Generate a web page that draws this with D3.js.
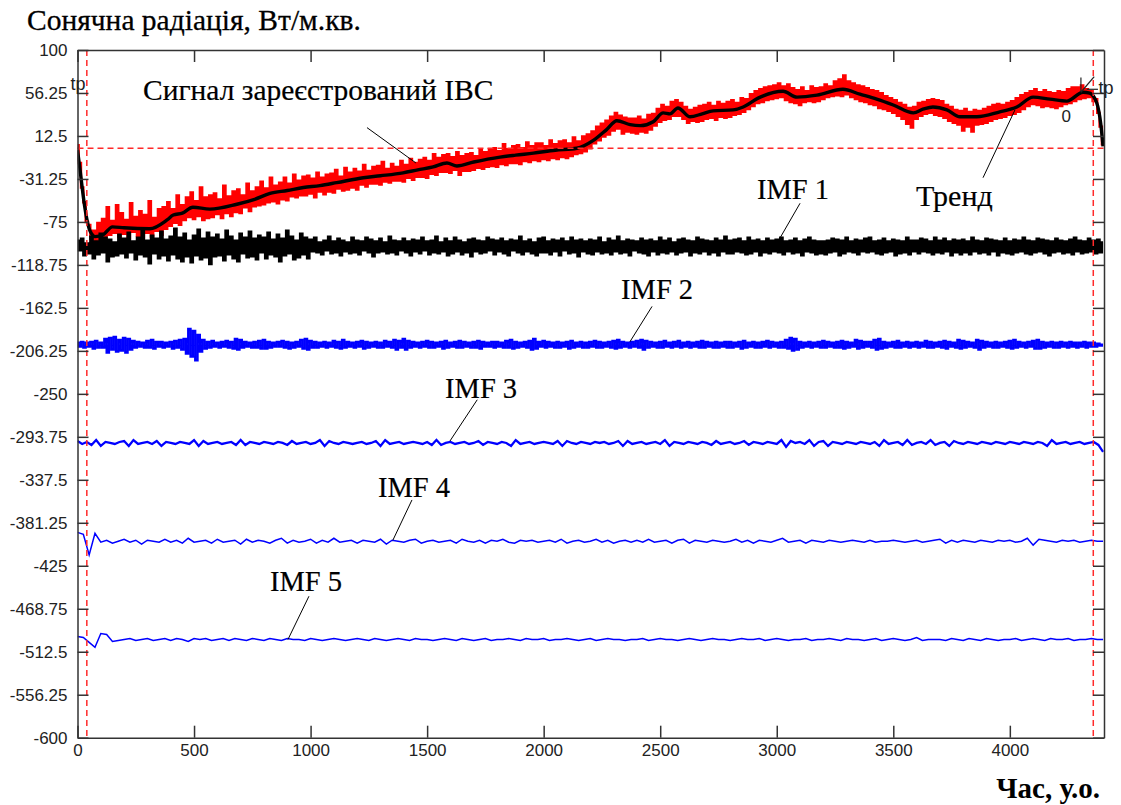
<!DOCTYPE html>
<html>
<head>
<meta charset="utf-8">
<script src="https://cdn.jsdelivr.net/npm/d3@7"></script>
<style>
  body { margin: 0; background: #fff; }
  svg { display: block; }
</style>
</head>
<body>
<svg id="chart" width="1121" height="805"></svg>
<script>
// ---- Axis ticks ----
const xTicks = [0, 500, 1000, 1500, 2000, 2500, 3000, 3500, 4000];
const yTicks = [100, 56.25, 12.5, -31.25, -75, -118.75, -162.5, -206.25, -250,
                -293.75, -337.5, -381.25, -425, -468.75, -512.5, -556.25, -600];
const yTickLabels = ["100", "56.25", "12.5", "-31.25", "-75", "-118.75", "-162.5", "-206.25", "-250",
                     "-293.75", "-337.5", "-381.25", "-425", "-468.75", "-512.5", "-556.25", "-600"];

// ---- Trend (smooth residual), key points ----
const trendX = [0,10,20,30,40,50,60,75,110,150,200,310,384,411,450,495,568,684,
  760,826,900,969,1040,1112,1226,1300,1397,1460,1526,1585,1628,1700,1813,1880,1956,2050,2142,2213,
  2270,2314,2371,2414,2470,2513,2542,2576,2628,2680,2727,2813,2856,2920,3027,3087,3173,3284,3357,3429,
  3500,3586,3630,3670,3730,3786,3858,3957,4030,4100,4172,4245,4314,4343,4373,4390,4400];
const trendY = [-2,-20,-40,-58,-72,-82,-87,-90,-88,-80,-81,-82,-73,-68,-66,-60,-62,-57,
  -52,-46,-43,-40,-38,-35,-30,-28,-25,-22,-19,-15,-18,-14,-9,-7,-5,-2,0,8,
  19,28,24,23,27,36,35,41,32,35,38,39,42,51,58,52,54,60,55,50,
  44,36,40,42,39,32,32,37,42,52,50,48,57,56,46,25,2];

// ---- Recorded signal, one sample every 10 time units ----
const signalStep = 10;
const signal = [3,-15,-40,-55,-75,-78,-92,-84,
  -95,-76,-93,-72,-91,-60,-88,-74,-86,-58,
  -90,-66,-87,-73,-92,-56,-85,-70,-89,-64,
  -91,-68,-86,-54,-90,-71,-84,-62,-88,-60,
  -82,-55,-79,-62,-76,-48,-78,-58,-73,-50,
  -70,-45,-72,-54,-69,-40,-73,-50,-71,-48,
  -70,-46,-67,-52,-71,-38,-66,-49,-69,-44,
  -65,-42,-66,-48,-60,-36,-64,-44,-59,-40,
  -58,-34,-57,-41,-55,-30,-54,-38,-56,-35,
  -52,-30,-53,-36,-49,-27,-50,-33,-48,-29,
  -48,-28,-46,-31,-50,-25,-44,-30,-47,-27,
  -44,-26,-45,-22,-41,-29,-43,-20,-42,-25,
  -40,-21,-42,-24,-37,-17,-39,-23,-36,-19,
  -36,-18,-37,-14,-34,-21,-35,-16,-33,-19,
  -33,-13,-34,-17,-30,-11,-32,-15,-29,-12,
  -29,-10,-30,-13,-26,-6,-27,-10,-24,-7,
  -24,-6,-25,-9,-22,-4,-27,-8,-23,-6,
  -23,-5,-22,-8,-20,-2,-21,-4,-19,-1,
  -18,0,-19,-3,-16,4,-17,-1,-15,2,
  -15,3,-16,0,-13,6,-14,2,-12,5,
  -13,5,-11,2,-12,8,-10,4,-11,7,
  -9,8,-10,5,-8,11,-6,7,-5,12,
  -3,14,0,17,5,22,8,25,12,28,
  14,32,18,36,20,33,15,31,17,30,
  16,30,15,32,17,29,16,34,19,35,
  23,40,27,44,29,42,30,47,33,49,
  33,46,30,42,26,39,28,41,27,43,
  28,44,30,46,31,43,29,47,32,45,
  31,47,32,49,34,46,35,51,37,50,
  40,55,43,58,46,60,47,62,49,63,
  50,64,51,66,52,63,49,65,47,61,
  46,59,44,62,47,58,48,63,47,61,
  48,62,50,65,52,63,53,68,54,70,
  53,74,55,68,52,66,50,64,48,63,
  47,61,45,59,44,58,41,56,40,53,
  38,51,36,49,33,46,30,44,25,41,
  21,42,30,46,33,47,35,49,36,50,
  34,49,33,48,31,44,28,42,26,39,
  24,38,18,40,22,37,17,39,24,38,
  25,40,26,42,28,44,30,45,31,44,
  32,46,34,48,35,51,37,54,40,56,
  43,58,45,60,44,57,42,59,43,57,
  42,56,41,58,43,57,45,60,46,62,
  48,62,50,64,51,60,52,58,48,50,
  36,22,4];

// ---- Intrinsic mode functions (values around zero) ----
const imf1Step = 10;
const imf1 = [
  6,-4,8,-9,3,-7,10,-12,5,-8,13,-6,9,-15,7,-10,4,-9,12,-7,
  8,-11,14,-6,5,-13,9,-8,16,-10,6,-17,11,-7,8,-12,15,-9,7,-14,
  10,-8,18,-12,9,-15,13,-10,6,-16,11,-9,17,-13,8,-11,14,-18,9,-10,
  12,-9,7,-14,16,-8,10,-12,6,-15,13,-7,9,-11,15,-10,8,-13,11,-6,
  9,-12,14,-8,7,-10,12,-15,8,-9,16,-7,10,-13,6,-11,13,-8,9,-12,
  7,-5,9,-6,4,-8,6,-4,10,-7,5,-6,8,-9,6,-5,4,-7,9,-6,
  6,-8,5,-4,9,-6,7,-10,5,-6,8,-5,4,-7,10,-6,6,-8,5,-4,
  8,-6,5,-9,7,-5,6,-7,9,-4,5,-8,6,-6,10,-7,4,-5,8,-9,
  5,-7,9,-5,6,-8,4,-6,7,-10,8,-5,6,-7,5,-6,9,-4,7,-8,
  6,-5,8,-7,5,-9,7,-4,6,-6,10,-8,5,-5,7,-7,4,-9,8,-6,
  9,-6,5,-8,7,-5,6,-9,8,-4,5,-7,9,-6,6,-10,7,-5,5,-7,
  7,-8,6,-5,9,-7,4,-6,8,-8,6,-5,10,-7,5,-6,7,-9,6,-4,
  5,-6,8,-7,6,-9,7,-5,5,-8,9,-6,6,-7,8,-5,4,-8,7,-6,
  8,-5,6,-9,5,-6,9,-7,7,-5,6,-8,5,-6,8,-9,6,-5,10,-7,
  6,-7,7,-5,8,-6,5,-8,9,-7,6,-5,7,-9,5,-6,8,-7,6,-5,
  7,-6,9,-8,5,-5,6,-7,8,-6,5,-9,7,-5,9,-6,6,-8,5,-7,
  5,-8,6,-6,8,-5,7,-9,6,-7,9,-5,5,-6,7,-8,6,-5,8,-6,
  9,-5,5,-7,6,-8,8,-6,5,-5,7,-9,6,-7,5,-6,9,-8,6,-5,
  6,-7,8,-5,7,-6,5,-8,9,-6,6,-7,8,-5,5,-9,7,-6,6,-8,
  7,-6,5,-8,9,-5,6,-7,5,-6,8,-8,7,-5,6,-9,5,-6,8,-7,
  5,-8,7,-6,6,-5,9,-7,6,-8,5,-6,8,-5,7,-7,6,-9,5,-6,
  8,-5,6,-7,5,-6,7,-8,9,-5,6,-7,5,-6,8,-5,6,-7,7,-6,
  4];

const imf2Step = 10;
const imf2 = [
  2,-2,3,-3,2,-2,3,-4,4,-3,2,-3,6,-8,7,-5,8,-7,5,-6,
  7,-8,6,-5,4,-3,3,-2,2,-3,4,-3,5,-4,3,-2,3,-3,2,-2,
  3,-4,4,-3,5,-5,6,-9,16,-12,14,-16,10,-7,5,-4,3,-3,4,-2,
  2,-3,3,-2,4,-3,3,-4,6,-5,5,-3,3,-2,2,-3,3,-3,4,-4,
  5,-4,3,-3,2,-2,3,-2,4,-3,3,-4,2,-3,3,-2,5,-4,6,-5,
  4,-3,3,-3,2,-2,3,-3,2,-2,4,-3,3,-4,5,-3,3,-2,2,-3,
  3,-2,4,-4,3,-3,2,-2,3,-3,2,-3,4,-2,3,-3,5,-5,4,-3,
  6,-5,4,-3,3,-2,2,-3,3,-2,4,-3,3,-3,2,-2,3,-4,4,-3,
  2,-2,3,-3,4,-3,3,-2,2,-3,3,-3,4,-4,3,-2,2,-2,3,-3,
  3,-2,2,-3,4,-3,5,-4,3,-3,2,-2,3,-3,4,-5,6,-4,3,-2,
  4,-3,3,-2,2,-3,3,-3,2,-2,3,-4,4,-3,2,-2,3,-3,2,-3,
  3,-2,4,-3,3,-3,2,-2,3,-3,4,-4,5,-3,3,-2,2,-3,3,-2,
  4,-3,5,-5,4,-3,3,-2,2,-3,3,-3,4,-2,2,-3,3,-2,4,-3,
  2,-2,3,-3,2,-2,3,-3,4,-3,3,-2,2,-3,3,-3,2,-2,3,-3,
  3,-3,2,-2,3,-4,4,-3,2,-2,3,-3,2,-3,3,-2,4,-3,3,-2,
  2,-3,3,-3,5,-4,7,-6,6,-5,3,-3,2,-2,3,-3,2,-2,3,-3,
  4,-3,3,-2,2,-3,3,-3,4,-4,3,-3,2,-2,5,-4,4,-3,3,-2,
  3,-3,5,-5,6,-4,3,-3,2,-2,3,-3,4,-3,2,-2,3,-3,2,-2,
  3,-3,2,-2,4,-3,3,-3,2,-2,3,-3,4,-4,3,-2,2,-3,5,-4,
  4,-3,3,-2,2,-3,5,-5,4,-3,3,-2,2,-3,3,-3,2,-2,3,-3,
  4,-4,5,-3,3,-2,2,-3,3,-2,4,-4,5,-4,3,-3,2,-2,3,-3,
  2,-3,3,-2,2,-3,3,-2,2,-3,2,-2,3,-3,2,-2,2,-2,1,-1,
  0];

const imf3Step = 20;
const imf3 = [
  2,-1,1,-2,3,-3,1,0,-1,1,2,-3,3,-1,0,1,-1,2,-3,1,
  0,-1,1,0,-1,3,-3,2,-1,0,1,-1,0,1,-2,3,-2,1,0,-1,
  1,0,-1,1,0,-2,2,-1,0,1,-1,0,3,-3,2,0,-1,1,0,-1,
  0,1,-1,0,2,-3,3,-1,0,1,-1,0,1,0,-1,1,-2,3,-2,0,
  1,-1,0,1,-1,0,2,-2,1,0,-1,1,0,-3,3,-1,0,1,-1,0,
  1,0,-1,2,-3,2,0,-1,1,0,-1,1,0,1,-1,0,2,-3,2,-1,
  0,1,-1,0,1,-1,3,-3,1,0,-1,1,0,-1,1,0,-2,2,-1,0,
  1,-1,0,2,-2,1,0,-1,1,0,-1,3,-4,2,0,1,-1,3,-3,1,
  2,-3,1,0,-1,1,0,-1,1,0,-1,1,-3,3,-1,0,1,-2,3,-2,
  0,1,-1,3,-2,0,1,-3,2,0,-1,1,0,-1,1,0,-1,1,0,-1,
  1,0,-1,1,0,-1,1,0,-3,3,-1,0,1,-1,0,1,-1,0,1,-2,
  -9];

const imf4Step = 25;
const imf4 = [
  9,7,-14,8,-1,1,-2,0,2,-1,1,-3,1,0,-1,2,
  -1,1,-2,3,-1,0,1,-2,2,-1,0,1,-3,2,-1,1,
  0,-2,1,3,-2,1,-1,0,2,-2,1,-1,3,-1,0,1,
  -2,1,0,-1,2,-3,1,0,-1,1,2,-2,0,1,-1,0,
  1,-2,2,0,-1,1,-2,1,0,2,-1,-2,1,0,1,-1,
  0,1,-1,2,-2,0,1,-1,0,2,-1,1,-2,0,1,-1,
  1,-1,2,-1,0,1,-2,1,2,-2,1,0,-1,1,0,-1,
  0,2,-1,1,-2,1,0,-1,1,3,-1,0,1,-2,1,0,
  -1,1,0,-1,0,1,0,-1,1,-1,0,0,1,0,-1,0,
  1,-1,0,1,2,-2,1,-1,1,0,-1,1,0,-1,1,0,
  1,-1,0,3,-4,2,1,0,-1,1,0,1,-1,0,1,0,
  0];

const imf5Step = 25;
const imf5 = [
  3,2,-3,-8,6,5,-2,-1,0,1,-1,0,1,-1,0,1,
  -1,1,0,-2,1,0,1,-1,0,1,-1,1,0,-1,1,0,
  -1,1,0,-1,1,0,0,-1,1,0,-1,0,1,0,-1,0,
  1,0,-1,1,0,-1,0,1,0,-1,1,0,0,-1,0,1,
  0,-1,1,0,-1,0,1,-1,0,0,1,0,-1,1,0,0,
  1,-1,0,0,1,0,-1,0,1,-1,0,1,0,0,-1,0,
  0,1,-1,0,1,0,0,-1,0,1,0,-1,0,1,0,0,
  -1,0,1,0,0,1,-1,0,1,0,-1,0,0,1,-1,0,
  0,1,0,-1,1,0,0,-1,0,1,-1,0,1,0,-1,0,
  2,-1,0,0,0,-1,1,0,-1,1,0,-1,1,0,-1,0,
  0,1,-1,0,1,0,-1,1,0,0,1,-1,0,0,1,0,
  0];

// vertical shift of each IMF trace on the common axis
const imfOffsets = [-100, -200, -300, -400, -500];
// boundary markers (time units) and the zero level
const markerTimes = [40, 4358];
const zeroLevel = 0;

// ---- Layout ----
const M = { l: 77.5, r: 1104, t: 50, b: 737.7 };
const svg = d3.select("#chart");
const x = d3.scaleLinear().domain([0, 4404]).range([M.l, M.r]);
const y = d3.scaleLinear().domain([-600, 100]).range([M.b, M.t]);

svg.append("defs").append("clipPath").attr("id", "plotArea")
  .append("rect").attr("x", M.l).attr("y", M.t)
  .attr("width", M.r - M.l).attr("height", M.b - M.t);

const plot = svg.append("g").attr("clip-path", "url(#plotArea)");

const toPoints = (vals, step, offset) => vals.map((v, i) => [i * step, v + offset]);
const rawLine = d3.line().x(d => x(d[0])).y(d => y(d[1]));
// dense sampled traces: vertical strokes between neighbouring samples
const denseLine = d3.line().x(d => x(d[0])).y(d => y(d[1])).curve(d3.curveStep);
const smoothLine = d3.line().x(d => x(d[0])).y(d => y(d[1])).curve(d3.curveMonotoneX);

// recorded signal
plot.append("path")
  .datum(toPoints(signal, signalStep, 0))
  .attr("d", denseLine)
  .attr("fill", "none").attr("stroke", "#ff0000").attr("stroke-width", 2.4)
  .attr("stroke-linejoin", "miter").attr("stroke-linecap", "butt");

// trend
plot.append("path")
  .datum(trendX.map((t, i) => [t, trendY[i]]))
  .attr("d", smoothLine)
  .attr("fill", "none").attr("stroke", "#000").attr("stroke-width", 3.4)
  .attr("stroke-linejoin", "round");

// IMF traces
const imfs = [
  { vals: imf1, step: imf1Step, color: "#000000", w: 2.4, gen: denseLine },
  { vals: imf2, step: imf2Step, color: "#0000ff", w: 2.3, gen: denseLine },
  { vals: imf3, step: imf3Step, color: "#0000ff", w: 2.3, gen: rawLine },
  { vals: imf4, step: imf4Step, color: "#0000ff", w: 1.5, gen: rawLine },
  { vals: imf5, step: imf5Step, color: "#0000ff", w: 1.5, gen: rawLine }
];
imfs.forEach((s, k) => {
  plot.append("path")
    .datum(toPoints(s.vals, s.step, imfOffsets[k]))
    .attr("d", s.gen)
    .attr("fill", "none").attr("stroke", s.color).attr("stroke-width", s.w);
});

// dashed reference lines
const dashed = svg.append("g").attr("stroke", "#ff2a2a").attr("stroke-width", 1.5)
  .attr("stroke-dasharray", "6,4").attr("fill", "none");
markerTimes.forEach(t => {
  dashed.append("line").attr("x1", x(t)).attr("x2", x(t)).attr("y1", M.t).attr("y2", M.b);
});
dashed.append("line").attr("x1", M.l).attr("x2", M.r).attr("y1", y(zeroLevel)).attr("y2", y(zeroLevel));

// ---- Axes (box with inward ticks) ----
const tickFont = "'Liberation Sans', Arial, sans-serif";
const gB = svg.append("g").attr("transform", `translate(0,${M.b})`)
  .call(d3.axisBottom(x).tickValues(xTicks).tickSizeInner(-12).tickSizeOuter(0).tickPadding(6).tickFormat(d3.format("d")));
const gT = svg.append("g").attr("transform", `translate(0,${M.t})`)
  .call(d3.axisTop(x).tickValues(xTicks).tickSizeInner(-12).tickSizeOuter(0).tickFormat(""));
const gL = svg.append("g").attr("transform", `translate(${M.l},0)`)
  .call(d3.axisLeft(y).tickValues(yTicks).tickSizeInner(-11).tickSizeOuter(0).tickPadding(10)
    .tickFormat((d, i) => yTickLabels[i]));
const gR = svg.append("g").attr("transform", `translate(${M.r},0)`)
  .call(d3.axisRight(y).tickValues(yTicks).tickSizeInner(-11).tickSizeOuter(0).tickFormat(""));
[gB, gT, gL, gR].forEach(g => {
  g.select(".domain").attr("stroke", "#333").attr("stroke-width", 1.5);
  g.selectAll(".tick line").attr("stroke", "#333").attr("stroke-width", 1.5);
  g.selectAll(".tick text").attr("font-family", tickFont).attr("font-size", 17).attr("fill", "#222");
});

// ---- Titles ----
const serif = "'Liberation Serif', 'Times New Roman', serif";
svg.append("text").attr("x", 27).attr("y", 30)
  .attr("font-family", serif).attr("font-size", 29.5).attr("fill", "#000")
  .attr("stroke", "#000").attr("stroke-width", 0.3)
  .text("Сонячна радіація, Вт/м.кв.");
svg.append("text").attr("x", 1100).attr("y", 798).attr("text-anchor", "end")
  .attr("font-family", serif).attr("font-size", 29).attr("font-weight", "bold").attr("fill", "#000")
  .text("Час, у.о.");

// ---- Annotations (anchored in data coordinates) ----
const labels = [
  { text: "Сигнал зареєстрований ІВС", at: [281, 49], from: [1242, 21], to: [1452, -15], size: 29.5 },
  { text: "Тренд", at: [3597, -59], from: [3885, -30], to: [4022, 39], size: 30 },
  { text: "IMF 1", at: [2915, -52], from: [3100, -56], to: [3010, -93], size: 28.5 },
  { text: "IMF 2", at: [2332, -153], from: [2465, -161], to: [2370, -197], size: 28.5 },
  { text: "IMF 3", at: [1577, -254], from: [1715, -256], to: [1598, -298], size: 28.5 },
  { text: "IMF 4", at: [1289, -355], from: [1435, -358], to: [1353, -399], size: 28.5 },
  { text: "IMF 5", at: [826, -451], from: [993, -456], to: [903, -500], size: 28.5 }
];
const ann = svg.append("g");
labels.forEach(a => {
  ann.append("line")
    .attr("x1", x(a.from[0])).attr("y1", y(a.from[1]))
    .attr("x2", x(a.to[0])).attr("y2", y(a.to[1]))
    .attr("stroke", "#000").attr("stroke-width", 1);
  ann.append("text").attr("x", x(a.at[0])).attr("y", y(a.at[1]))
    .attr("font-family", serif).attr("font-size", a.size).attr("fill", "#000")
    .attr("stroke", "#000").attr("stroke-width", 0.2)
    .text(a.text);
});

// boundary tags
ann.append("text").attr("x", x(-30)).attr("y", y(59))
  .attr("font-family", tickFont).attr("font-size", 18).attr("fill", "#222").text("tp");
ann.append("text").attr("x", x(4380)).attr("y", y(55))
  .attr("font-family", tickFont).attr("font-size", 18).attr("fill", "#222").text("tp");
ann.append("text").attr("x", x(4222)).attr("y", y(27))
  .attr("font-family", tickFont).attr("font-size", 17).attr("fill", "#222").text("0");
const tagLines = [
  [[4305, 72], [4305, 57]],
  [[4305, 57], [4362, 73]],
  [[4330, 60], [4378, 60]]
];
tagLines.forEach(seg => {
  ann.append("line")
    .attr("x1", x(seg[0][0])).attr("y1", y(seg[0][1]))
    .attr("x2", x(seg[1][0])).attr("y2", y(seg[1][1]))
    .attr("stroke", "#222").attr("stroke-width", 1.2);
});
</script>
</body>
</html>
